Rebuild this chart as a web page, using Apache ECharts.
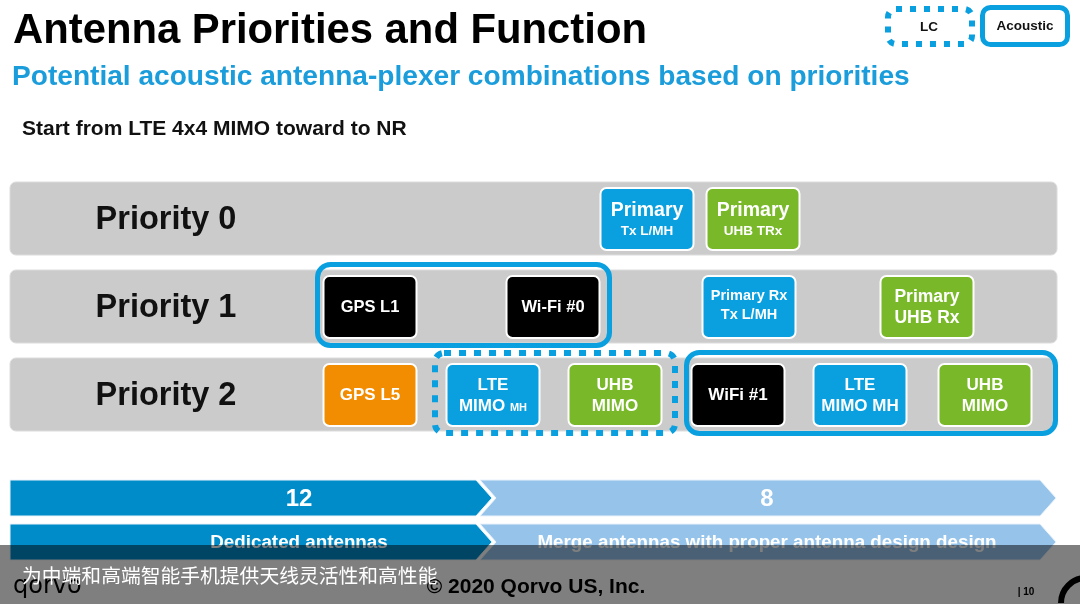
<!DOCTYPE html>
<html><head><meta charset="utf-8">
<script src="https://cdn.jsdelivr.net/npm/echarts@6/dist/echarts.min.js"></script>
<style>html,body{margin:0;padding:0;background:#fff}#c{width:1080px;height:604px}</style>
</head><body><div id="c"></div>
<script>
// ---- data ----
const priorities = ['Priority 0', 'Priority 1', 'Priority 2'];
const boxLine1 = ['Primary', 'Primary', 'GPS L1', 'Wi-Fi #0', 'Primary Rx', 'Primary', 'GPS L5', 'LTE', 'UHB', 'WiFi #1', 'LTE', 'UHB'];
const boxLine2 = ['Tx L/MH', 'UHB TRx', '', '', 'Tx L/MH', 'UHB Rx', '', 'MIMO MH', 'MIMO', '', 'MIMO MH', 'MIMO'];
const boxRow = [0, 0, 1, 1, 1, 1, 2, 2, 2, 2, 2, 2];
const boxCenter = [647, 753, 370, 553, 749, 927, 370, 493, 615, 738, 860, 985];
const boxType = ['lte', 'uhb', 'gps', 'wifi', 'lte', 'uhb', 'gpsl5', 'lte', 'uhb', 'wifi', 'lte', 'uhb'];
const groupType = ['Acoustic', 'LC', 'Acoustic'];
const groupRow = [1, 2, 2];
const groupFrom = [315, 432, 684];
const groupTo = [612, 678, 1058];
const legendItems = ['LC', 'Acoustic'];
const stageValues = ['12', '8'];
const stageText = ['Dedicated antennas', 'Merge antennas with proper antenna design design'];
const stageFrom = [10, 480];
const stageTo = [476, 1040];

// ---- styles ----
const BLUE = '#0aa0e0', GREEN = '#79b929', ORANGE = '#f28c00', BLACK = '#000000';
const typeColor = { lte: BLUE, uhb: GREEN, gps: BLACK, wifi: BLACK, gpsl5: ORANGE };
const HEAD = '"Liberation Sans", Arial, sans-serif';
const BODY = '"Liberation Sans", Arial, sans-serif';
// per-box font sizes and line offsets (layout only)
const boxFont = [[19.5, 13.5], [19.5, 13.5], [16.5], [16.5], [14.5, 14.5], [17.5, 17.5], [17], [17, 17], [17, 17], [17], [17, 17], [17, 17]];
const boxOff = [[-8, 12], [-8, 12], [0], [0], [-11, 8], [-10, 11], [0], [-10, 11], [-10, 11], [0], [-10, 11], [-10, 11]];
const BOX_W = 93, BOX_H = 62;

const chart = echarts.init(document.getElementById('c'), null, { renderer: 'canvas' });

function txt(text, x, y, font, fill, align, extra) {
  return Object.assign({ type: 'text', style: { text: text, x: x, y: y, font: font, fill: fill,
    align: align || 'center', textAlign: align || 'center', verticalAlign: 'middle', textVerticalAlign: 'middle' } }, extra || {});
}

const option = {
  animation: false,
  backgroundColor: '#ffffff',
  grid: [
    { left: 0, right: 0, top: 174, height: 264 },
    { left: 0, right: 0, top: 476, height: 88 }
  ],
  xAxis: [
    { type: 'value', min: 0, max: 1080, show: false, gridIndex: 0 },
    { type: 'value', min: 0, max: 1080, show: false, gridIndex: 1 }
  ],
  yAxis: [
    { type: 'category', data: priorities, inverse: true, show: false, gridIndex: 0 },
    { type: 'category', data: ['count', 'label'], inverse: true, show: false, gridIndex: 1 }
  ],
  graphic: [
    txt('Antenna Priorities and Function', 13, 31.5, 'bold 41.8px ' + HEAD, '#000', 'left'),
    txt('Potential acoustic antenna-plexer combinations based on priorities', 12, 77, 'bold 28.1px ' + HEAD, '#1b9ddb', 'left'),
    txt('Start from LTE 4x4 MIMO toward to NR', 22, 129, 'bold 21px ' + HEAD, '#111', 'left'),
    // legend
    { type: 'rect', shape: { x: 888, y: 9, width: 84, height: 35, r: 8 }, style: { fill: 'none', stroke: BLUE, lineWidth: 6, lineDash: [6, 8] } },
    txt(legendItems[0], 929, 27, 'bold 13.5px ' + BODY, '#111'),
    { type: 'rect', shape: { x: 982.5, y: 7.5, width: 85, height: 37, r: 8 }, style: { fill: '#fff', stroke: BLUE, lineWidth: 5 } },
    txt(legendItems[1], 1025, 26, 'bold 13.5px ' + BODY, '#111'),
    // footer (under overlay)
    txt('qorvo', 13, 587, '24px "DejaVu Sans", sans-serif', '#000', 'left'),
    txt('\u00a9 2020 Qorvo US, Inc.', 536, 587, 'bold 21px ' + BODY, '#000'),
    txt('| 10', 1026, 592, 'bold 10px ' + BODY, '#000'),
    { type: 'arc', shape: { cx: 1086, cy: 603, r: 25, startAngle: Math.PI, endAngle: Math.PI * 1.5 }, style: { fill: 'none', stroke: '#000', lineWidth: 6 } },
    // caption overlay
    { type: 'rect', z: 50, shape: { x: 0, y: 545, width: 1080, height: 59 }, style: { fill: 'rgba(0,0,0,0.5)' } },
    txt('为中端和高端智能手机提供天线灵活性和高性能', 22, 575, '19.8px "Noto Sans CJK SC", sans-serif', '#ffffff', 'left', { z: 51 })
  ],
  series: [
    { // priority rows
      type: 'custom', silent: true, xAxisIndex: 0, yAxisIndex: 0, z: 1,
      data: priorities.map((p, i) => [0, i]),
      renderItem: function (params, api) {
        const r = api.value(1);
        const a = api.coord([10, r]);
        const b = api.coord([1057, r]);
        const l = api.coord([166, r]);
        return { type: 'group', children: [
          { type: 'rect', shape: { x: a[0], y: a[1] - 36, width: b[0] - a[0], height: 73, r: 6 }, style: { fill: '#cbcbcb', stroke: '#dcdcdc', lineWidth: 1 } },
          txt(priorities[params.dataIndex], l[0], l[1] + 2.5, 'bold 32.5px ' + HEAD, '#111')
        ] };
      }
    },
    { // group outlines
      type: 'custom', silent: true, xAxisIndex: 0, yAxisIndex: 0, z: 2,
      data: groupFrom.map((f, i) => [f, groupRow[i], groupTo[i]]),
      renderItem: function (params, api) {
        const i = params.dataIndex;
        const a = api.coord([api.value(0), api.value(1)]);
        const b = api.coord([api.value(2), api.value(1)]);
        const lc = groupType[i] === 'LC';
        const lw = lc ? 6 : 5;
        return { type: 'rect',
          shape: { x: a[0] + lw / 2, y: a[1] - 44 + lw / 2, width: b[0] - a[0] - lw, height: 86 - lw, r: lc ? 9 : 13 },
          style: lc ? { fill: 'none', stroke: BLUE, lineWidth: lw, lineDash: [7, 8] } : { fill: 'none', stroke: BLUE, lineWidth: lw } };
      }
    },
    { // boxes
      type: 'custom', silent: true, xAxisIndex: 0, yAxisIndex: 0, z: 3,
      data: boxCenter.map((x, i) => [x, boxRow[i]]),
      renderItem: function (params, api) {
        const i = params.dataIndex;
        const c = api.coord([api.value(0), api.value(1)]);
        const cy = c[1] + 1;
        const kids = [
          { type: 'rect', shape: { x: c[0] - BOX_W / 2, y: cy - BOX_H / 2, width: BOX_W, height: BOX_H, r: 6 }, style: { fill: typeColor[boxType[i]], stroke: '#ffffff', lineWidth: 2 } }
        ];
        const f = boxFont[i], o = boxOff[i];
        kids.push(txt(boxLine1[i], c[0], cy + o[0], 'bold ' + f[0] + 'px ' + BODY, '#fff'));
        if (boxLine2[i]) {
          if (i === 7) {
            kids.push({ type: 'text', style: { text: 'MIMO {s|MH}', x: c[0], y: cy + o[1], font: 'bold ' + f[1] + 'px ' + BODY, fill: '#fff', align: 'center', verticalAlign: 'middle',
              rich: { s: { font: 'bold 11px ' + BODY, fill: '#fff', padding: [3, 0, 0, 0] } } } });
          } else {
            kids.push(txt(boxLine2[i], c[0], cy + o[1], 'bold ' + f[1] + 'px ' + BODY, '#fff'));
          }
        }
        return { type: 'group', children: kids };
      }
    },
    { // stage arrows
      type: 'custom', silent: true, xAxisIndex: 1, yAxisIndex: 1, z: 2,
      data: [[stageFrom[0], 0, stageTo[0]], [stageFrom[0], 1, stageTo[0]], [stageFrom[1], 0, stageTo[1]], [stageFrom[1], 1, stageTo[1]]],
      renderItem: function (params, api) {
        const i = params.dataIndex;
        const s = i >> 1, row = api.value(1);
        const a = api.coord([api.value(0), row]);
        const b = api.coord([api.value(2), row]);
        const tip = 16, h = 36;
        const y0 = a[1] - h / 2, y1 = a[1] + h / 2, yc = a[1];
        const pts = [[a[0], y0], [b[0], y0], [b[0] + tip, yc], [b[0], y1], [a[0], y1]];
        if (s === 1) pts.push([a[0] + tip, yc]);
        const lc = api.coord([[299, 767][s], row]);
        const label = row === 0 ? stageValues[s] : stageText[s];
        return { type: 'group', children: [
          { type: 'polygon', shape: { points: pts }, style: { fill: s === 0 ? '#008cc9' : '#95c3ea', stroke: '#eaf3fb', lineWidth: 1 } },
          txt(label, lc[0], yc + 1, row === 0 ? 'bold 24px ' + BODY : 'bold 18.8px ' + BODY, '#ffffff')
        ] };
      }
    }
  ]
};
chart.setOption(option);
</script>
</body></html>
